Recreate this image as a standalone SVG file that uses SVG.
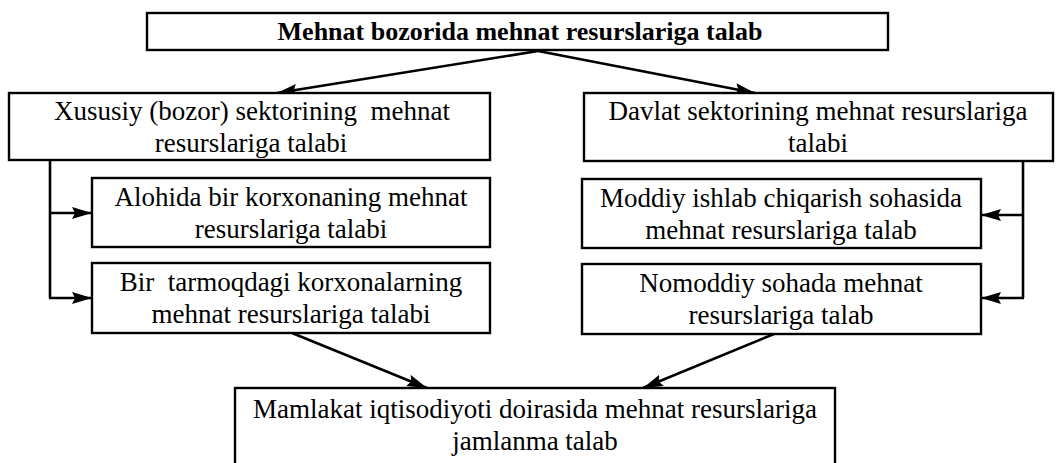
<svg xmlns="http://www.w3.org/2000/svg" width="1056" height="463" viewBox="0 0 1056 463">
<style>
.box{fill:#fff;stroke:#000;stroke-width:2.4}
.t{font-family:"Liberation Serif","Times New Roman",serif;font-size:27px;fill:#000;text-anchor:middle;white-space:pre}
.tb{font-family:"Liberation Serif","Times New Roman",serif;font-size:26px;font-weight:bold;fill:#000;text-anchor:middle}
.c{fill:none;stroke:#000;stroke-width:2.6}
</style>
<defs>
<marker id="ah" markerUnits="userSpaceOnUse" markerWidth="21" markerHeight="13" refX="20" refY="6.5" orient="auto">
<path d="M0,0.5 L20,6.5 L0,12.5 L3,6.5 z" fill="#000"/>
</marker>
</defs>
<rect width="1056" height="463" fill="#fff"/>
<g id="connectors">
<line class="c" x1="538" y1="51" x2="277" y2="93" marker-end="url(#ah)"/>
<line class="c" x1="538" y1="51" x2="755" y2="93" marker-end="url(#ah)"/>
<polyline class="c" points="50,160 50,298"/>
<line class="c" x1="50" y1="213" x2="92" y2="213" marker-end="url(#ah)"/>
<line class="c" x1="49" y1="298" x2="92" y2="298" marker-end="url(#ah)"/>
<polyline class="c" points="1023,161 1023,298"/>
<line class="c" x1="1023" y1="215" x2="981" y2="215" marker-end="url(#ah)"/>
<line class="c" x1="1024" y1="298" x2="981" y2="298" marker-end="url(#ah)"/>
<line class="c" x1="292" y1="333" x2="427" y2="388" marker-end="url(#ah)"/>
<line class="c" x1="774" y1="334" x2="643" y2="388" marker-end="url(#ah)"/>
</g>
<g id="top">
<rect class="box" x="147" y="13" width="741" height="37"/>
<text class="tb" x="520" y="40">Mehnat bozorida mehnat resurslariga talab</text>
</g>
<g id="xususiy">
<rect class="box" x="9" y="93" width="481" height="67"/>
<text class="t" x="252" y="120">Xususiy (bozor) sektorining  mehnat</text>
<text class="t" x="251" y="152">resurslariga talabi</text>
</g>
<g id="davlat">
<rect class="box" x="584" y="93" width="469" height="68"/>
<text class="t" x="818" y="120">Davlat sektorining mehnat resurslariga</text>
<text class="t" x="818" y="152">talabi</text>
</g>
<g id="alohida">
<rect class="box" x="92" y="178" width="398" height="69"/>
<text class="t" x="291" y="206">Alohida bir korxonaning mehnat</text>
<text class="t" x="291" y="238">resurslariga talabi</text>
</g>
<g id="bir">
<rect class="box" x="92" y="263" width="398" height="70"/>
<text class="t" x="291" y="291">Bir  tarmoqdagi korxonalarning</text>
<text class="t" x="291" y="323">mehnat resurslariga talabi</text>
</g>
<g id="moddiy">
<rect class="box" x="582" y="179" width="399" height="69"/>
<text class="t" x="781" y="207">Moddiy ishlab chiqarish sohasida</text>
<text class="t" x="781" y="239">mehnat resurslariga talab</text>
</g>
<g id="nomoddiy">
<rect class="box" x="582" y="264" width="399" height="70"/>
<text class="t" x="781" y="292">Nomoddiy sohada mehnat</text>
<text class="t" x="781" y="324">resurslariga talab</text>
</g>
<g id="jami">
<rect class="box" x="235" y="388" width="600" height="85"/>
<text class="t" x="535" y="418">Mamlakat iqtisodiyoti doirasida mehnat resurslariga</text>
<text class="t" x="535" y="450">jamlanma talab</text>
</g>
</svg>
